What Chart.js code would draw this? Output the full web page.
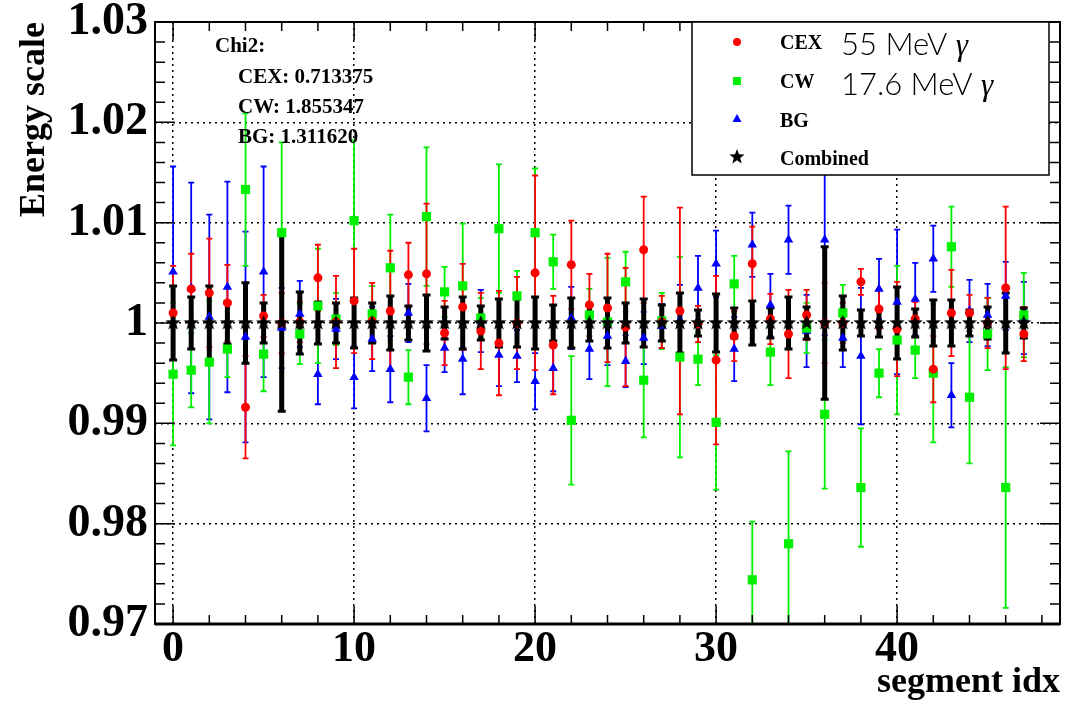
<!DOCTYPE html>
<html>
<head>
<meta charset="utf-8">
<title>Energy scale</title>
<script src="https://cdn.jsdelivr.net/npm/chart.js@4.4.0/dist/chart.umd.min.js"></script>
<style>
  html, body { margin: 0; padding: 0; background: #fff; }
</style>
</head>
<body>
<canvas id="myChart" width="1081" height="701"></canvas>
<script>
// segment index on the x axis
const segments = [0, 1, 2, 3, 4, 5, 6, 7, 8, 9, 10, 11, 12, 13, 14, 15, 16, 17, 18, 19, 20, 21, 22, 23,
                  24, 25, 26, 27, 28, 29, 30, 31, 32, 33, 34, 35, 36, 37, 38, 39, 40, 41, 42, 43, 44, 45, 46, 47]

// CEX 55 MeV gamma
const cexValues = [1.0010, 1.0034, 1.0030, 1.0020, 0.9916, 1.0007, 1.0000, 1.0001, 1.0045, 1.0001, 1.0022, 1.0002,
                   1.0012, 1.0048, 1.0049, 0.9990, 1.0016, 0.9992, 0.9980, 1.0000, 1.0050, 0.9978, 1.0058, 1.0018,
                   1.0015, 0.9996, 1.0073, 1.0001, 1.0012, 0.9999, 0.9963, 0.9987, 1.0059, 1.0004, 0.9989, 1.0008,
                   1.0000, 1.0000, 1.0041, 1.0014, 0.9994, 1.0004, 0.9954, 1.0010, 1.0010, 1.0000, 1.0035, 0.9989]
const cexErrors = [0.0047, 0.0035, 0.0054, 0.0038, 0.0051, 0.0021, 0.0030, 0.0020, 0.0033, 0.0046, 0.0052, 0.0038,
                   0.0060, 0.0032, 0.0070, 0.0032, 0.0043, 0.0038, 0.0052, 0.0046, 0.0097, 0.0049, 0.0044, 0.0031,
                   0.0054, 0.0059, 0.0053, 0.0026, 0.0103, 0.0018, 0.0084, 0.0025, 0.0037, 0.0025, 0.0044, 0.0025,
                   0.0040, 0.0020, 0.0013, 0.0020, 0.0047, 0.0017, 0.0033, 0.0043, 0.0018, 0.0025, 0.0081, 0.0027]

// CW 17.6 MeV gamma
const cwValues = [0.9949, 0.9953, 0.9961, 0.9974, 1.0133, 0.9969, 1.0090, 0.9989, 1.0017, 1.0004, 1.0102, 1.0009,
                  1.0055, 0.9946, 1.0106, 1.0031, 1.0037, 1.0005, 1.0094, 1.0027, 1.0090, 1.0061, 0.9903, 1.0008,
                  1.0001, 1.0041, 0.9943, 1.0002, 0.9966, 0.9964, 0.9901, 1.0039, 0.9744, 0.9971, 0.9780, 0.9995,
                  0.9909, 1.0010, 0.9836, 0.9950, 0.9983, 0.9973, 0.9950, 1.0076, 0.9926, 0.9989, 0.9836, 1.0008]
const cwErrors = [0.0071, 0.0037, 0.0061, 0.0028, 0.0076, 0.0037, 0.0090, 0.0030, 0.0057, 0.0026, 0.0080, 0.0028,
                  0.0053, 0.0027, 0.0069, 0.0025, 0.0062, 0.0020, 0.0064, 0.0025, 0.0064, 0.0027, 0.0064, 0.0026,
                  0.0064, 0.0030, 0.0057, 0.0028, 0.0100, 0.0026, 0.0067, 0.0028, 0.0058, 0.0033, 0.0092, 0.0025,
                  0.0074, 0.0028, 0.0059, 0.0024, 0.0074, 0.0028, 0.0069, 0.0040, 0.0066, 0.0036, 0.0120, 0.0042]

// BG
const bgValues = [1.0051, 1.0035, 1.0006, 1.0036, 0.9986, 1.0051, 0.9995, 1.0009, 0.9949, 0.9994, 0.9946, 0.9984,
                  0.9954, 1.0010, 0.9925, 0.9975, 0.9964, 1.0002, 0.9968, 0.9967, 0.9942, 0.9955, 1.0005, 0.9974,
                  0.9987, 0.9962, 0.9985, 0.9997, 1.0003, 1.0035, 1.0059, 0.9974, 1.0078, 1.0018, 1.0083, 0.9992,
                  1.0083, 0.9985, 0.9967, 1.0034, 1.0021, 1.0024, 1.0064, 0.9928, 1.0012, 1.0008, 1.0027, 1.0005]
const bgErrors = [0.0105, 0.0105, 0.0102, 0.0105, 0.0105, 0.0105, 0.0040, 0.0033, 0.0030, 0.0030, 0.0031, 0.0032,
                  0.0033, 0.0029, 0.0033, 0.0024, 0.0035, 0.0031, 0.0031, 0.0026, 0.0028, 0.0023, 0.0031, 0.0030,
                  0.0029, 0.0026, 0.0026, 0.0022, 0.0035, 0.0032, 0.0033, 0.0032, 0.0032, 0.0031, 0.0034, 0.0036,
                  0.0095, 0.0029, 0.0068, 0.0030, 0.0072, 0.0036, 0.0033, 0.0032, 0.0031, 0.0031, 0.0034, 0.0036]

// Combined
const combinedValues = [1, 1, 1, 1, 1, 1, 1, 1, 1, 1, 1, 1, 1, 1, 1, 1, 1, 1, 1, 1, 1, 1, 1, 1,
                        1, 1, 1, 1, 1, 1, 1, 1, 1, 1, 1, 1, 1, 1, 1, 1, 1, 1, 1, 1, 1, 1, 1, 1]
const combinedErrors = [0.0037, 0.0026, 0.0037, 0.0021, 0.0040, 0.0020, 0.0088, 0.0031, 0.0021, 0.0020, 0.0025, 0.0020,
                        0.0027, 0.0017, 0.0028, 0.0016, 0.0026, 0.0017, 0.0024, 0.0024, 0.0026, 0.0018, 0.0025, 0.0018,
                        0.0025, 0.0020, 0.0024, 0.0018, 0.0030, 0.0013, 0.0029, 0.0015, 0.0022, 0.0015, 0.0026, 0.0016,
                        0.0076, 0.0027, 0.0013, 0.0014, 0.0036, 0.0014, 0.0023, 0.0023, 0.0013, 0.0016, 0.0030, 0.0015]

const chi2Lines = ['Chi2:', 'CEX: 0.713375', 'CW: 1.855347', 'BG: 1.311620']
const xMajorLabels = [0, 10, 20, 30, 40]
const yMajorLabels = [0.97, 0.98, 0.99, 1, 1.01, 1.02, 1.03]

const red = '#ff0000'
const green = '#00f000'
const blue = '#0000ff'
const serif = '"Liberation Serif", "Times New Roman", serif'
const thinSans = '300 31px Lato, "Open Sans", sans-serif'

function toPoints(values) {
    return segments.map((s, i) => ({ x: s, y: values[i] }))
}

function makeStar(r) {
    const c = document.createElement('canvas')
    c.width = c.height = 2 * r + 2
    const g = c.getContext('2d')
    g.beginPath()
    for (let k = 0; k < 10; k++) {
        const rad = k % 2 ? r * 0.42 : r
        const a = -Math.PI / 2 + k * Math.PI / 5
        g.lineTo(r + 1 + rad * Math.cos(a), r + 1 + rad * Math.sin(a))
    }
    g.closePath()
    g.fillStyle = '#000'
    g.fill()
    return c
}
const starImg = makeStar(8)

// error bars, drawn under all markers
const errorBars = {
    id: 'errorBars',
    beforeDatasetsDraw(chart) {
        const { ctx, chartArea: a, scales: { x, y } } = chart
        ctx.save()
        ctx.beginPath()
        ctx.rect(a.left, a.top, a.width, a.height)
        ctx.clip()
        const sets = chart.data.datasets.slice().sort((p, q) => q.order - p.order)
        sets.forEach(ds => {
            ctx.strokeStyle = ds.barColor
            ds.data.forEach((pt, i) => {
                const err = ds.errors[i]
                const px = x.getPixelForValue(pt.x)
                const top = y.getPixelForValue(pt.y + err)
                const bot = y.getPixelForValue(pt.y - err)
                ctx.lineWidth = ds.barWidth
                ctx.beginPath()
                ctx.moveTo(px, top)
                ctx.lineTo(px, bot)
                ctx.stroke()
                ctx.lineWidth = ds.capLine
                ctx.beginPath()
                ctx.moveTo(px - ds.capWidth / 2, top)
                ctx.lineTo(px + ds.capWidth / 2, top)
                ctx.moveTo(px - ds.capWidth / 2, bot)
                ctx.lineTo(px + ds.capWidth / 2, bot)
                ctx.stroke()
            })
        })
        ctx.restore()
    }
}

// frame with inward ticks on all four sides, like ROOT
const frameAxes = {
    id: 'frameAxes',
    afterDatasetsDraw(chart) {
        const { ctx, chartArea: a, scales: { x, y } } = chart
        ctx.save()
        ctx.strokeStyle = '#000'
        ctx.lineWidth = 1.5
        ctx.beginPath()
        x.ticks.forEach(t => {
            const px = x.getPixelForValue(t.value)
            const len = xMajorLabels.includes(t.value) ? 18 : 9
            ctx.moveTo(px, a.bottom); ctx.lineTo(px, a.bottom - len)
            ctx.moveTo(px, a.top); ctx.lineTo(px, a.top + len)
        })
        y.ticks.forEach(t => {
            const py = y.getPixelForValue(t.value)
            const major = Math.round(t.value * 1000) % 10 === 0
            const len = major ? 20 : 10
            ctx.moveTo(a.left, py); ctx.lineTo(a.left + len, py)
            ctx.moveTo(a.right, py); ctx.lineTo(a.right - len, py)
        })
        ctx.stroke()
        ctx.lineWidth = 2
        ctx.strokeRect(a.left, a.top, a.width, a.height)
        ctx.lineWidth = 3
        ctx.beginPath()
        ctx.moveTo(a.left, a.bottom); ctx.lineTo(a.right, a.bottom)
        ctx.stroke()
        ctx.restore()
    }
}

function measure(ctx, font, text) {
    const old = ctx.font
    ctx.font = font
    const w = ctx.measureText(text).width
    ctx.font = old
    return w
}

// legend box and chi2 text
const overlay = {
    id: 'overlay',
    afterDatasetsDraw(chart) {
        const { ctx } = chart
        ctx.save()
        ctx.fillStyle = '#000'
        ctx.textBaseline = 'alphabetic'
        ctx.font = 'bold 21px ' + serif
        ctx.fillText(chi2Lines[0], 215, 52)
        ctx.fillText(chi2Lines[1], 238, 83)
        ctx.fillText(chi2Lines[2], 238, 113)
        ctx.fillText(chi2Lines[3], 238, 143)

        const bx = 692, by = 22, bw = 357, bh = 153
        ctx.fillStyle = '#fff'
        ctx.fillRect(bx, by, bw, bh)
        ctx.strokeStyle = '#000'
        ctx.lineWidth = 1.5
        ctx.strokeRect(bx, by, bw, bh)

        const mx = 737
        const rows = [42, 81, 119, 157]
        ctx.fillStyle = red
        ctx.beginPath(); ctx.arc(mx, rows[0], 4, 0, Math.PI * 2); ctx.fill()
        ctx.fillStyle = green
        ctx.fillRect(mx - 4, rows[1] - 4, 8, 8)
        ctx.fillStyle = blue
        ctx.beginPath()
        ctx.moveTo(mx, rows[2] - 5); ctx.lineTo(mx + 4.5, rows[2] + 3); ctx.lineTo(mx - 4.5, rows[2] + 3)
        ctx.closePath(); ctx.fill()
        ctx.drawImage(starImg, mx - 9, rows[3] - 9)

        ctx.fillStyle = '#000'
        ctx.font = 'bold 20px ' + serif
        const names = chart.data.datasets.map(d => d.label)
        ctx.fillText(names[1], 780, 49)
        ctx.fillText(names[2], 780, 88)
        ctx.fillText(names[3], 780, 127)
        ctx.fillText(names[0], 780, 165)

        ctx.font = thinSans
        ctx.fillText('55 MeV ', 841, 55)
        ctx.fillText('17.6 MeV ', 841, 95)
        ctx.font = 'italic 31px "Liberation Serif", serif'
        ctx.fillText('γ', 841 + measure(ctx, thinSans, '55 MeV '), 55)
        ctx.fillText('γ', 841 + measure(ctx, thinSans, '17.6 MeV '), 95)
        ctx.restore()
    }
}

const xTickValues = []
for (let v = 0; v <= 48; v += 2) xTickValues.push(v)
const yTickValues = []
for (let k = 0; k <= 30; k++) yTickValues.push(Math.round((0.97 + k * 0.002) * 1000) / 1000)

const ctx = document.getElementById('myChart')

new Chart(ctx, {
    type: 'scatter',
    data: {
        datasets: [
            {
                label: 'Combined', data: toPoints(combinedValues), errors: combinedErrors, order: 0,
                pointStyle: starImg, pointRadius: 8, barColor: '#000', barWidth: 5, capWidth: 8, capLine: 3
            },
            {
                label: 'CEX', data: toPoints(cexValues), errors: cexErrors, order: 1,
                pointStyle: 'circle', pointRadius: 4.5, backgroundColor: red, borderColor: red, borderWidth: 0,
                barColor: red, barWidth: 1.8, capWidth: 6, capLine: 1.8
            },
            {
                label: 'CW', data: toPoints(cwValues), errors: cwErrors, order: 2,
                pointStyle: 'rect', pointRadius: 6.5, backgroundColor: green, borderColor: green, borderWidth: 0,
                barColor: green, barWidth: 1.8, capWidth: 6, capLine: 1.8
            },
            {
                label: 'BG', data: toPoints(bgValues), errors: bgErrors, order: 3,
                pointStyle: 'triangle', pointRadius: 5.5, backgroundColor: blue, borderColor: blue, borderWidth: 0,
                barColor: blue, barWidth: 1.8, capWidth: 6, capLine: 1.8
            }
        ]
    },
    options: {
        responsive: false,
        animation: false,
        devicePixelRatio: 1,
        layout: { padding: { left: 0, right: 21, top: 22, bottom: 0 } },
        plugins: {
            legend: { display: false },
            tooltip: { enabled: false }
        },
        scales: {
            x: {
                type: 'linear', min: -1, max: 49,
                afterBuildTicks: s => { s.ticks = xTickValues.map(v => ({ value: v })) },
                afterFit: s => { s.height = 77; s.paddingLeft = 0; s.paddingRight = 0 },
                ticks: {
                    autoSkip: false, maxRotation: 0, padding: 4, color: '#000',
                    font: { family: serif, weight: 'bold', size: 44, lineHeight: 1 },
                    callback: v => xMajorLabels.includes(v) ? String(v) : ''
                },
                grid: {
                    drawTicks: false, lineWidth: 1.5,
                    color: c => (c.tick && xMajorLabels.includes(c.tick.value)) ? '#000' : 'rgba(0,0,0,0)'
                },
                border: { display: false, dash: [2, 4] },
                title: {
                    display: true, text: 'segment idx', align: 'end', color: '#000', padding: 0,
                    font: { family: serif, weight: 'bold', size: 36, lineHeight: 1 }
                }
            },
            y: {
                min: 0.97, max: 1.03,
                afterBuildTicks: s => { s.ticks = yTickValues.map(v => ({ value: v })) },
                afterFit: s => { s.width = 155; s.paddingTop = 0; s.paddingBottom = 0 },
                ticks: {
                    autoSkip: false, padding: 7, color: '#000',
                    font: { family: serif, weight: 'bold', size: 46, lineHeight: 1 },
                    callback: v => yMajorLabels.some(m => Math.abs(m - v) < 1e-6) ? String(parseFloat(v.toFixed(2))) : ''
                },
                grid: {
                    drawTicks: false, lineWidth: 1.5,
                    color: c => (c.tick && Math.round(c.tick.value * 1000) % 10 === 0) ? '#000' : 'rgba(0,0,0,0)'
                },
                border: { display: false, dash: [2, 4] },
                title: {
                    display: true, text: 'Energy scale', align: 'end', color: '#000', padding: 17,
                    font: { family: serif, weight: 'bold', size: 36, lineHeight: 1 }
                }
            }
        }
    },
    plugins: [errorBars, frameAxes, overlay]
});
</script>
</body>
</html>
